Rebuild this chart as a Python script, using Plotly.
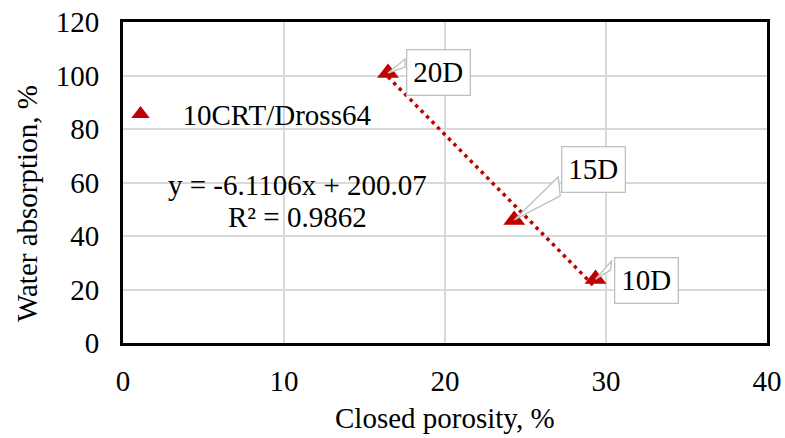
import plotly.graph_objects as go

# Closed porosity vs water absorption for the 10CRT/Dross64 series
labels = ["20D", "15D", "10D"]
closed_porosity = [16.46, 24.3, 29.35]
water_absorption = [100.9, 46.0, 23.9]

# Linear trendline reported for the series
slope = -6.1106
intercept = 200.07
r_squared = 0.9862

series_name = "10CRT/Dross64"
x_ticks = [0, 10, 20, 30, 40]
y_ticks = [0, 20, 40, 60, 80, 100, 120]

FONT = "Liberation Serif"
RED = "#C00000"
GRID = "#D9D9D9"
CALLOUT = "#BFBFBF"

# Callout placement: box centre offset and wedge base (screen px, y down)
callout_box = [(50.5, -1), (79.5, -50.5), (50.5, 1)]
callout_wedge = [
    [(17, -14), (17, -6)],
    [(44, -43), (46, -24)],
    [(16, -18), (15, -9)],
]

fig = go.Figure()

x_lo, x_hi = min(closed_porosity), max(closed_porosity)
fig.add_trace(go.Scatter(
    x=[x_lo, x_hi],
    y=[slope * x_lo + intercept, slope * x_hi + intercept],
    mode="lines",
    line=dict(color=RED, width=3.5, dash="3.5px,4.3px"),
    showlegend=False,
    hoverinfo="skip",
))

fig.add_trace(go.Scatter(
    x=closed_porosity,
    y=water_absorption,
    mode="markers",
    name=series_name,
    marker=dict(symbol="triangle-up", size=19, color=RED),
))

shapes = []
annotations = []
for lab, xv, yv, (bx, by), wedge in zip(labels, closed_porosity, water_absorption,
                                        callout_box, callout_wedge):
    (ax1, ay1), (ax2, ay2) = wedge
    shapes.append(dict(
        type="path", xref="x", yref="y",
        xsizemode="pixel", ysizemode="pixel",
        xanchor=xv, yanchor=yv,
        path=f"M0,0 L{ax1},{-ay1} L{ax2},{-ay2} Z",
        fillcolor="white", line=dict(color=CALLOUT, width=1.3),
        layer="above",
    ))
    annotations.append(dict(
        x=xv, y=yv, xref="x", yref="y",
        xshift=bx, yshift=-by,
        text=lab, showarrow=False,
        font=dict(family=FONT, size=29, color="black"),
        bgcolor="white", bordercolor=CALLOUT, borderwidth=1.3, borderpad=6,
        xanchor="center", yanchor="middle",
    ))

# Trendline equation and R²
annotations.append(dict(
    x=10.84, y=59.1, xref="x", yref="y",
    text=f"y = {slope}x + {intercept:.2f}", showarrow=False,
    font=dict(family=FONT, size=29, color="black"),
    xanchor="center", yanchor="middle",
))
annotations.append(dict(
    x=10.84, y=47.1, xref="x", yref="y",
    text=f"R² = {r_squared}", showarrow=False,
    font=dict(family=FONT, size=29, color="black"),
    xanchor="center", yanchor="middle",
))

# Axis titles
annotations.append(dict(
    x=-0.149, y=0.433, xref="paper", yref="paper",
    text="Water absorption, %", textangle=-90, showarrow=False,
    font=dict(family=FONT, size=29, color="black"),
    xanchor="center", yanchor="middle",
))
annotations.append(dict(
    x=0.5, y=-0.234, xref="paper", yref="paper",
    text="Closed porosity, %", showarrow=False,
    font=dict(family=FONT, size=29, color="black"),
    xanchor="center", yanchor="middle",
))

fig.update_layout(
    width=785, height=438,
    margin=dict(l=123, r=18, t=22, b=95, autoexpand=False),
    paper_bgcolor="white", plot_bgcolor="white",
    font=dict(family=FONT, size=29, color="black"),
    shapes=shapes,
    annotations=annotations,
    legend=dict(
        x=-0.038, y=0.713, xanchor="left", yanchor="middle",
        bgcolor="rgba(0,0,0,0)", borderwidth=0,
        font=dict(family=FONT, size=29, color="black"),
        itemwidth=74,
    ),
    xaxis=dict(
        range=[0, 40], tickvals=x_ticks, automargin=False,
        showgrid=True, gridcolor=GRID, gridwidth=1.5,
        showline=True, linecolor="black", linewidth=3, mirror=True,
        zeroline=False, ticks="", ticklabelstandoff=10,
        tickfont=dict(family=FONT, size=29, color="black"),
    ),
    yaxis=dict(
        range=[0, 120], tickvals=y_ticks, automargin=False,
        showgrid=True, gridcolor=GRID, gridwidth=1.5,
        showline=True, linecolor="black", linewidth=3, mirror=True,
        zeroline=False, ticks="", ticklabelstandoff=15,
        tickfont=dict(family=FONT, size=29, color="black"),
    ),
)

fig.write_html("out.html")
